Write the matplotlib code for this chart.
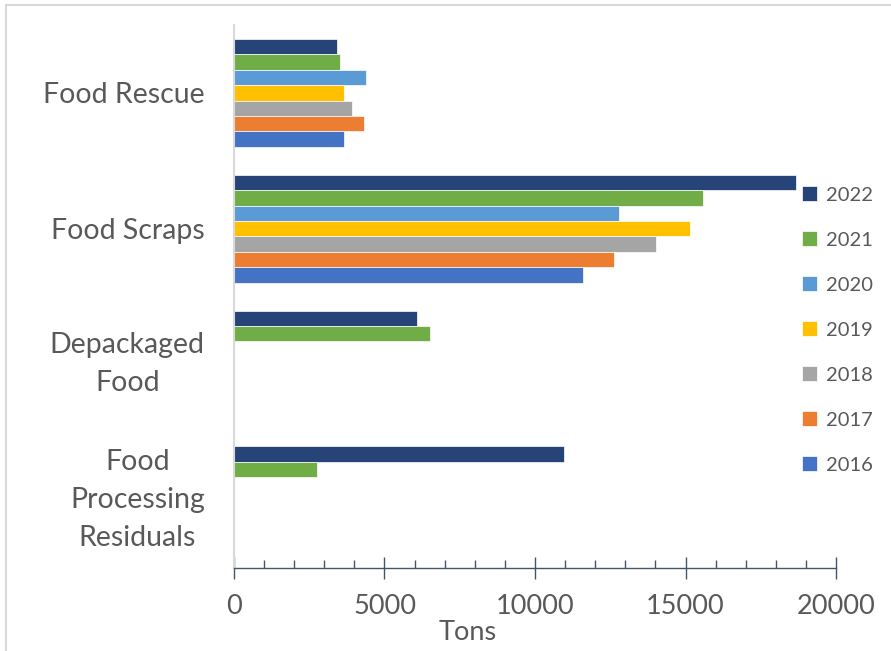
#!/usr/bin/env python3

import numpy as np
from matplotlib import pyplot as plt
from matplotlib.patches import Rectangle

plt.rcParams['font.family'] = ['Lato', 'DejaVu Sans']

categories = ['Food Rescue', 'Food Scraps', 'Depackaged\nFood',
              'Food\nProcessing\nResiduals']
years = ['2022', '2021', '2020', '2019', '2018', '2017', '2016']
# toneladas por categoria (nan = sem dado)
v2022 = [3430, 18680, 6090, 10970]
v2021 = [3520, 15570, 6520, 2770]
v2020 = [4380, 12780, np.nan, np.nan]
v2019 = [3650, 15160, np.nan, np.nan]
v2018 = [3910, 14020, np.nan, np.nan]
v2017 = [4330, 12620, np.nan, np.nan]
v2016 = [3670, 11600, np.nan, np.nan]
values = [v2022, v2021, v2020, v2019, v2018, v2017, v2016]
colors = ['#264478', '#70AD47', '#5B9BD5', '#FFC000', '#A5A5A5', '#ED7D31', '#4472C4']
xticks = [0, 5000, 10000, 15000, 20000]

def main():
    fig = plt.figure(figsize=(8.91, 6.51), dpi=100)
    ax = fig.add_axes([0.2626, 0.1275, 0.6757, 0.834])

    ypos = np.arange(len(categories))[::-1]  # primeira categoria no topo
    group = 0.794
    h = group / len(years)
    handles = []
    for i, (yr, vals, c) in enumerate(zip(years, values, colors)):
        vals = np.array(vals, dtype=float)
        ok = ~np.isnan(vals)
        yc = ypos + group / 2 - h * (i + 0.5)
        b = ax.barh(yc[ok], vals[ok], height=h, color=c,
                    edgecolor='white', linewidth=0.5, label=yr)
        handles.append(b)

    ax.set_xlim(0, 20000)
    ax.set_ylim(-0.5, len(categories) - 0.5)
    ax.set_yticks(ypos)
    ax.set_yticklabels(categories, fontsize=20.5, color='#595959')
    for t in ax.get_yticklabels():
        t.set_multialignment('center')
        t.set_linespacing(1.58)
        if '\n' in t.get_text():
            t.set_verticalalignment('center')
    ax.tick_params(axis='y', length=0, pad=21)

    ax.set_xticks(xticks)
    ax.set_xticklabels([str(x) for x in xticks], fontsize=19.5, color='#595959')
    ax.set_xticks(np.arange(0, 20001, 1000), minor=True)
    ax.tick_params(axis='x', which='major', direction='inout', length=16,
                   width=1.0, color='#44546A', pad=11)
    ax.tick_params(axis='x', which='minor', direction='in', length=5.8,
                   width=1.0, color='#44546A')

    for s in ['top', 'right']:
        ax.spines[s].set_visible(False)
    ax.spines['bottom'].set_color('#44546A')
    ax.spines['bottom'].set_linewidth(1.0)
    ax.spines['left'].set_color('#D9D9D9')
    ax.spines['left'].set_linewidth(1.5)

    fig.text(468 / 891, 0.029, 'Tons', fontsize=19.5, color='#595959',
             ha='center', va='center')

    leg = fig.legend(handles=handles, loc='center left',
                     bbox_to_anchor=(0.889, 0.493), frameon=False,
                     fontsize=14.5, labelspacing=1.37, handlelength=0.75,
                     handleheight=0.75, handletextpad=0.45, borderpad=0)
    for t in leg.get_texts():
        t.set_color('#595959')

    # borda do grafico (so esquerda e topo aparecem)
    fig.patches.append(Rectangle((5.5 / 891, -0.1), 1.2, 1.1 - 4.5 / 651,
                                 transform=fig.transFigure, fill=False,
                                 edgecolor='#D9D9D9', linewidth=1.5))

    plt.savefig('out.png', dpi=100)
    plt.clf()

if __name__ == '__main__':
    main()
